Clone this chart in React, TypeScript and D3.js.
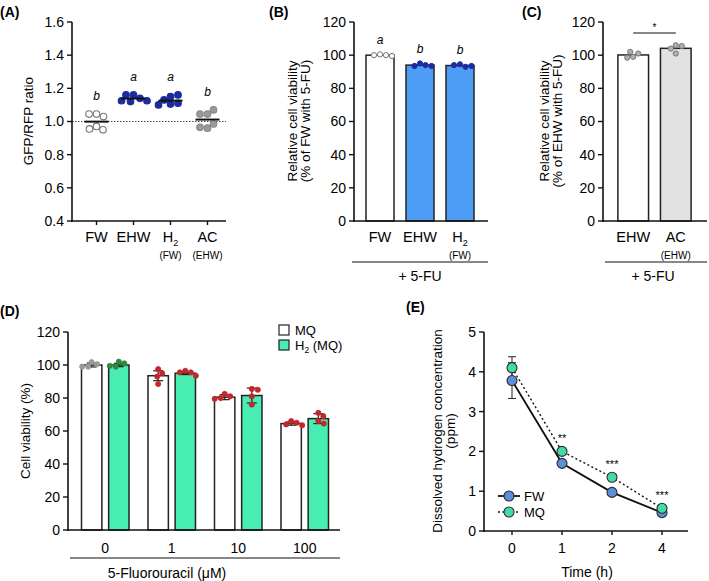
import React from 'react';
import * as d3 from 'd3';

const FONT = '"Liberation Sans", Arial, Helvetica, sans-serif';

// (A) GFP/RFP ratio per water type
const aGroups = ['FW', 'EHW', 'H2', 'AC'];
const aSub = ['', '', '(FW)', '(EHW)'];
const aValues = [
  [1.045, 1.03, 1.045, 0.97, 0.95, 0.955],
  [1.16, 1.14, 1.16, 1.125, 1.125, 1.12],
  [1.15, 1.16, 1.13, 1.105, 1.11, 1.1],
  [1.045, 1.07, 1.045, 0.96, 0.985, 0.965],
];
const aLetters = ['b', 'a', 'a', 'b'];
const aTicks = [0.4, 0.6, 0.8, 1.0, 1.2, 1.4, 1.6];

// (B) viability relative to FW
const bGroups = ['FW', 'EHW', 'H2'];
const bSub = ['', '', '(FW)'];
const bValues = [
  [100.5, 100, 100, 99.5],
  [95, 94, 93.5, 93.5],
  [94.5, 93, 94, 93.5],
];
const bLetters = ['a', 'b', 'b'];

// (C) viability relative to EHW
const cGroups = ['EHW', 'AC'];
const cSub = ['', '(EHW)'];
const cValues = [
  [99, 101, 102, 98.5],
  [106, 105.5, 101, 104],
];
const pctTicks = [0, 20, 40, 60, 80, 100, 120];

// (D) viability vs 5-FU dose
const dDoses = ['0', '1', '10', '100'];
const dSeries = ['MQ', 'H2'];
const dMQ = [100, 93.5, 80.5, 64.5];
const dMQErr = [1.2, 3.0, 1.5, 1.0];
const dH2 = [100, 95, 81.5, 67.5];
const dH2Err = [1.0, 0.8, 4.5, 3.0];
const dMQPts = [
  [101.8, 100.5, 99, 99],
  [97.5, 95, 93, 88.5],
  [82.5, 81, 80, 79.5],
  [66, 65, 64, 63.5],
];
const dH2Pts = [
  [102, 101, 99, 99.5],
  [96.5, 95.5, 95.5, 93.5],
  [85.5, 85, 81, 76],
  [71, 69, 66, 64.5],
];

// (E) dissolved hydrogen over time
const eTimes = ['0', '1', '2', '4'];
const eFW = [3.78, 1.7, 0.97, 0.46];
const eFWErr = [0.45, 0.04, 0.03, 0.03];
const eMQ = [4.1, 2.0, 1.35, 0.57];
const eMQErr = [0.28, 0.07, 0.05, 0.05];
const eStars = ['', '**', '***', '***'];
const eTicks = [0, 1, 2, 3, 4, 5];

const BLUE_BAR = '#4d9cf5';
const NAVY = '#1c2b9e';
const MINT = '#48edb2';
const RED = '#c0282c';

// simple beeswarm: each point takes the nearest free horizontal offset
function swarm(values: number[], y: (v: number) => number, cx: number, r: number) {
  const placed: { x: number; y: number }[] = [];
  values.forEach((v) => {
    const py = y(v);
    for (let k = 0; k < 200; k++) {
      const off = k === 0 ? 0 : (k % 2 ? 1 : -1) * Math.ceil(k / 2) * 0.5;
      const px = cx + off;
      if (placed.every((p) => Math.hypot(p.x - px, p.y - py) >= 2 * r)) {
        placed.push({ x: px, y: py });
        return;
      }
    }
    placed.push({ x: cx, y: py });
  });
  return placed;
}

const YAxis = ({ scale, x, ticks, fmt }: { scale: d3.ScaleLinear<number, number>; x: number; ticks: number[]; fmt: (v: number) => string }) => {
  const [r0, r1] = scale.range();
  return (
    <g>
      <line x1={x} x2={x} y1={r0 + 1} y2={r1} stroke="#111" strokeWidth={1.6} />
      {ticks.map((t) => (
        <g key={t}>
          <line x1={x - 5} x2={x} y1={scale(t)} y2={scale(t)} stroke="#111" strokeWidth={1.4} />
          <text x={x - 8} y={scale(t)} dy="0.35em" textAnchor="end" fontSize={14}>{fmt(t)}</text>
        </g>
      ))}
    </g>
  );
};

const CatLabel = ({ x, y, name, sub }: { x: number; y: number; name: string; sub: string }) => (
  <g>
    <text x={x} y={y} textAnchor="middle" fontSize={14.5}>
      {name === 'H2' ? (<><tspan>H</tspan><tspan dy={4} fontSize={9}>2</tspan></>) : name}
    </text>
    {sub && <text x={x} y={y + 17} textAnchor="middle" fontSize={10}>{sub}</text>}
  </g>
);

const YLabel = ({ x, y, lines }: { x: number; y: number; lines: string[] }) => (
  <g>
    {lines.map((l, i) => (
      <text key={i} transform={`translate(${x + i * 13},${y}) rotate(-90)`} textAnchor="middle" fontSize={13.5}>{l}</text>
    ))}
  </g>
);

function PanelA() {
  const y = d3.scaleLinear().domain([0.4, 1.6]).range([221, 22]);
  const x = d3.scaleBand().domain(aGroups).range([78, 226]);
  const fills = ['#fff', NAVY, NAVY, '#9a9a9a'];
  const strokes = ['#777', NAVY, NAVY, '#888'];
  return (
    <g>
      <text x={0} y={17} fontWeight="bold" fontSize={14}>(A)</text>
      <YLabel x={33} y={121} lines={['GFP/RFP ratio']} />
      <line x1={72} x2={226} y1={y(1)} y2={y(1)} stroke="#444" strokeWidth={1} strokeDasharray="1.5,1.5" />
      {aGroups.map((g, i) => {
        const cx = x(g)! + x.bandwidth() / 2;
        const pts = swarm(aValues[i], y, cx, 3.6);
        const mean = d3.mean(aValues[i])!;
        const top = d3.min(pts, (p) => p.y)!;
        return (
          <g key={g}>
            {pts.map((p, j) => (
              <circle key={j} cx={p.x} cy={p.y} r={3.3} fill={fills[i]} stroke={strokes[i]} strokeWidth={1.1} />
            ))}
            <line x1={cx - 12} x2={cx + 12} y1={y(mean)} y2={y(mean)} stroke="#111" strokeWidth={2} />
            <text x={cx} y={top - 14} textAnchor="middle" fontStyle="italic" fontSize={12}>{aLetters[i]}</text>
            <line x1={cx} x2={cx} y1={221} y2={225} stroke="#111" strokeWidth={1.4} />
            <CatLabel x={cx} y={242} name={g} sub={aSub[i]} />
          </g>
        );
      })}
      <YAxis scale={y} x={72} ticks={aTicks} fmt={d3.format('.1f')} />
      <line x1={71} x2={226} y1={221} y2={221} stroke="#111" strokeWidth={1.6} />
    </g>
  );
}

function PanelB() {
  const y = d3.scaleLinear().domain([0, 120]).range([221, 22]);
  const x = d3.scaleBand().domain(bGroups).range([360, 480]).paddingInner(0.3).paddingOuter(0.15);
  const fills = ['#fff', BLUE_BAR, BLUE_BAR];
  return (
    <g>
      <text x={269} y={17} fontWeight="bold" fontSize={14}>(B)</text>
      <YLabel x={297} y={121} lines={['Relative cell viability', '(% of FW with 5-FU)']} />
      {bGroups.map((g, i) => {
        const x0 = x(g)!;
        const cx = x0 + x.bandwidth() / 2;
        const mean = d3.mean(bValues[i])!;
        const pts = swarm(bValues[i], y, cx, 2.8);
        const top = d3.min(pts, (p) => p.y)!;
        return (
          <g key={g}>
            <rect x={x0} y={y(mean)} width={x.bandwidth()} height={221 - y(mean)} fill={fills[i]} stroke="#222" strokeWidth={1.5} />
            {pts.map((p, j) => (
              <circle key={j} cx={p.x} cy={p.y} r={2.6} fill={i === 0 ? '#fff' : NAVY} stroke={i === 0 ? '#777' : NAVY} strokeWidth={1} />
            ))}
            <text x={cx} y={top - 10} textAnchor="middle" fontStyle="italic" fontSize={12}>{bLetters[i]}</text>
            <CatLabel x={cx} y={242} name={g} sub={bSub[i]} />
          </g>
        );
      })}
      <YAxis scale={y} x={354} ticks={pctTicks} fmt={d3.format('d')} />
      <line x1={353} x2={488} y1={221} y2={221} stroke="#111" strokeWidth={1.6} />
      <line x1={352} x2={488} y1={262} y2={262} stroke="#111" strokeWidth={1.2} />
      <text x={420} y={281} textAnchor="middle" fontSize={14}>+ 5-FU</text>
    </g>
  );
}

function PanelC() {
  const y = d3.scaleLinear().domain([0, 120]).range([221, 22]);
  const x = d3.scaleBand().domain(cGroups).range([603, 706]).paddingInner(0.28).paddingOuter(0.35);
  const fills = ['#fff', '#e2e2e2'];
  const cxs = cGroups.map((g) => x(g)! + x.bandwidth() / 2);
  return (
    <g>
      <text x={522} y={17} fontWeight="bold" fontSize={14}>(C)</text>
      <YLabel x={549} y={121} lines={['Relative cell viability', '(% of EHW with 5-FU)']} />
      {cGroups.map((g, i) => {
        const x0 = x(g)!;
        const mean = d3.mean(cValues[i])!;
        const pts = swarm(cValues[i], y, cxs[i], 2.8);
        return (
          <g key={g}>
            <rect x={x0} y={y(mean)} width={x.bandwidth()} height={221 - y(mean)} fill={fills[i]} stroke="#222" strokeWidth={1.5} />
            {pts.map((p, j) => (
              <circle key={j} cx={p.x} cy={p.y} r={2.6} fill="#b0b0b0" stroke="#777" strokeWidth={1} />
            ))}
            <CatLabel x={cxs[i]} y={242} name={g} sub={cSub[i]} />
          </g>
        );
      })}
      <line x1={cxs[0]} x2={cxs[1]} y1={33} y2={33} stroke="#111" strokeWidth={1.2} />
      <text x={(cxs[0] + cxs[1]) / 2} y={33} dy={-2} textAnchor="middle" fontSize={10}>*</text>
      <YAxis scale={y} x={603} ticks={pctTicks} fmt={d3.format('d')} />
      <line x1={602} x2={707} y1={221} y2={221} stroke="#111" strokeWidth={1.6} />
      <line x1={605} x2={707} y1={262} y2={262} stroke="#111" strokeWidth={1.2} />
      <text x={653} y={281} textAnchor="middle" fontSize={14}>+ 5-FU</text>
    </g>
  );
}

function PanelD() {
  const y = d3.scaleLinear().domain([0, 120]).range([530, 332]);
  const x = d3.scaleBand().domain(dDoses).range([72, 338]);
  const xs = d3.scaleBand().domain(dSeries).range([0, x.bandwidth()]).paddingInner(0.25).paddingOuter(0.35);
  const series = [
    { key: 'MQ', means: dMQ, errs: dMQErr, pts: dMQPts, fill: '#fff' },
    { key: 'H2', means: dH2, errs: dH2Err, pts: dH2Pts, fill: MINT },
  ];
  const dotColor = (s: string, i: number) => (i > 0 ? RED : s === 'MQ' ? '#9a9a9a' : '#2e8b3a');
  return (
    <g>
      <text x={0} y={316} fontWeight="bold" fontSize={14}>(D)</text>
      <YLabel x={30} y={431} lines={['Cell viability (%)']} />
      {dDoses.map((dose, i) => (
        <g key={dose}>
          {series.map((s) => {
            const x0 = x(dose)! + xs(s.key)!;
            const cx = x0 + xs.bandwidth() / 2;
            const m = s.means[i];
            const e = s.errs[i];
            const pts = swarm(s.pts[i], y, cx, 2.8);
            const c = dotColor(s.key, i);
            return (
              <g key={s.key}>
                <rect x={x0} y={y(m)} width={xs.bandwidth()} height={530 - y(m)} fill={s.fill} stroke="#222" strokeWidth={1.5} />
                <line x1={cx} x2={cx} y1={y(m + e)} y2={y(m - e)} stroke="#222" strokeWidth={1.2} />
                <line x1={cx - 5} x2={cx + 5} y1={y(m + e)} y2={y(m + e)} stroke="#222" strokeWidth={1.2} />
                <line x1={cx - 5} x2={cx + 5} y1={y(m - e)} y2={y(m - e)} stroke="#222" strokeWidth={1.2} />
                {pts.map((p, j) => (
                  <circle key={j} cx={p.x} cy={p.y} r={2.6} fill={c} stroke={c} strokeWidth={0.8} />
                ))}
              </g>
            );
          })}
          <text x={x(dose)! + x.bandwidth() / 2} y={553} textAnchor="middle" fontSize={14}>{dose}</text>
        </g>
      ))}
      <YAxis scale={y} x={68} ticks={pctTicks} fmt={d3.format('d')} />
      <line x1={67} x2={340} y1={530} y2={530} stroke="#111" strokeWidth={1.6} />
      <line x1={70} x2={340} y1={558} y2={558} stroke="#111" strokeWidth={1.2} />
      <text x={167} y={578} textAnchor="middle" fontSize={14}>5-Fluorouracil (μM)</text>
      {/* legend */}
      <rect x={279} y={325} width={10} height={10} fill="#fff" stroke="#222" strokeWidth={1.2} />
      <text x={295} y={334.5} fontSize={13}>MQ</text>
      <rect x={279} y={340} width={10} height={10} fill={MINT} stroke="#222" strokeWidth={1.2} />
      <text x={295} y={349.5} fontSize={13}>
        <tspan>H</tspan><tspan dy={3.5} fontSize={8.5}>2</tspan><tspan dy={-3.5}> (MQ)</tspan>
      </text>
    </g>
  );
}

function PanelE() {
  const y = d3.scaleLinear().domain([0, 5]).range([531, 332]);
  const x = d3.scalePoint().domain(eTimes).range([512, 662]);
  const line = d3.line<number>().x((_, i) => x(eTimes[i])!).y((v) => y(v));
  const series = [
    { key: 'FW', vals: eFW, errs: eFWErr, fill: '#5b8fd9', dash: undefined as string | undefined },
    { key: 'MQ', vals: eMQ, errs: eMQErr, fill: '#44dca6', dash: '2,2.5' },
  ];
  return (
    <g>
      <text x={406} y={312} fontWeight="bold" fontSize={14}>(E)</text>
      <YLabel x={442} y={431} lines={['Dissolved hydrogen concentration', '(ppm)']} />
      {series.map((s) => (
        <g key={s.key}>
          {s.vals.map((v, i) => {
            const cx = x(eTimes[i])!;
            const e = s.errs[i];
            return (
              <g key={i}>
                <line x1={cx} x2={cx} y1={y(v + e)} y2={y(v - e)} stroke="#333" strokeWidth={1.1} />
                <line x1={cx - 4} x2={cx + 4} y1={y(v + e)} y2={y(v + e)} stroke="#333" strokeWidth={1.1} />
                <line x1={cx - 4} x2={cx + 4} y1={y(v - e)} y2={y(v - e)} stroke="#333" strokeWidth={1.1} />
              </g>
            );
          })}
        </g>
      ))}
      {series.map((s) => (
        <path key={s.key} d={line(s.vals)!} fill="none" stroke="#111" strokeWidth={s.dash ? 1.4 : 1.8} strokeDasharray={s.dash} />
      ))}
      {series.map((s) => (
        <g key={s.key}>
          {s.vals.map((v, i) => (
            <circle key={i} cx={x(eTimes[i])!} cy={y(v)} r={5} fill={s.fill} stroke="#2a2a2a" strokeWidth={1.1} />
          ))}
        </g>
      ))}
      {eStars.map((st, i) => (
        <text key={i} x={x(eTimes[i])!} y={y(eMQ[i] + eMQErr[i]) - 7} textAnchor="middle" fontSize={11}>{st}</text>
      ))}
      {eTimes.map((t) => (
        <g key={t}>
          <line x1={x(t)!} x2={x(t)!} y1={531} y2={535} stroke="#111" strokeWidth={1.4} />
          <text x={x(t)!} y={553} textAnchor="middle" fontSize={14}>{t}</text>
        </g>
      ))}
      <YAxis scale={y} x={484} ticks={eTicks} fmt={d3.format('d')} />
      <line x1={483} x2={688} y1={531} y2={531} stroke="#111" strokeWidth={1.6} />
      <text x={587} y={577} textAnchor="middle" fontSize={14}>Time (h)</text>
      {/* legend */}
      {series.map((s, i) => (
        <g key={s.key} transform={`translate(0,${496 + i * 16})`}>
          <line x1={498} x2={520} y1={0} y2={0} stroke="#111" strokeWidth={s.dash ? 1.4 : 1.8} strokeDasharray={s.dash} />
          <circle cx={509} cy={0} r={5} fill={s.fill} stroke="#2a2a2a" strokeWidth={1.1} />
          <text x={524} y={0} dy="0.35em" fontSize={13}>{s.key}</text>
        </g>
      ))}
    </g>
  );
}

export default function App() {
  return (
    <svg width={709} height={581} viewBox="0 0 709 581" fontFamily={FONT}
      style={{ position: 'absolute', left: 0, top: 0, background: '#fff' }}>
      <rect width={709} height={581} fill="#fff" />
      <PanelA />
      <PanelB />
      <PanelC />
      <PanelD />
      <PanelE />
    </svg>
  );
}
